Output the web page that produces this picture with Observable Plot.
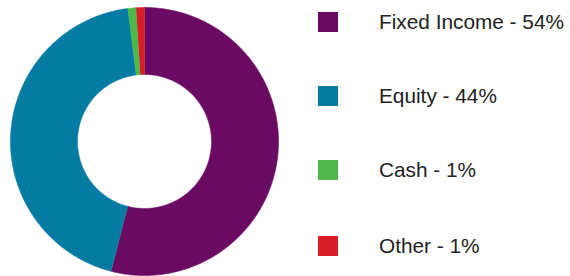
<!DOCTYPE html>
<html>
<head>
<meta charset="utf-8">
<script src="https://cdn.jsdelivr.net/npm/d3@7"></script>
<script src="https://cdn.jsdelivr.net/npm/@observablehq/plot@0.6"></script>
<style>
  html, body { margin: 0; padding: 0; background: #fff; }
  #wrap { position: relative; width: 570px; height: 276px; overflow: hidden; font-family: "Liberation Sans", Arial, sans-serif; }
  #legend { position: absolute; left: 318px; top: 12px; }
  .row { position: absolute; left: 0; height: 20px; display: flex; align-items: center; white-space: nowrap; }
  .sw { width: 20px; height: 20px; flex: none; }
  .lab { margin-left: 41px; font-size: 20.8px; color: #222; line-height: 20px; }
</style>
</head>
<body>
<div id="wrap"><div id="legend"></div></div>
<script>
const categories = ["Fixed Income", "Equity", "Cash", "Other"];
const values = [54, 44, 1, 1];
const labels = ["Fixed Income - 54%", "Equity - 44%", "Cash - 1%", "Other - 1%"];
const colors = ["#6b0a62", "#047ba3", "#50b848", "#d71e28"];

const data = categories.map((c, i) => ({category: c, value: values[i], label: labels[i]}));
const innerRatio = 0.5;

// compute slice angles with d3.pie, then sample each slice's ring outline
const arcs = d3.pie().sort(null).value(d => d.value)(data);
const pts = [];
for (const a of arcs) {
  const n = Math.max(2, Math.ceil((a.endAngle - a.startAngle) / 0.01));
  const outer = d3.range(n + 1).map(k => a.startAngle + (a.endAngle - a.startAngle) * k / n);
  for (const t of outer) pts.push({category: a.data.category, x: Math.sin(t), y: -Math.cos(t)});
  for (const t of outer.slice().reverse()) pts.push({category: a.data.category, x: innerRatio * Math.sin(t), y: -innerRatio * Math.cos(t)});
}

const chart = Plot.plot({
  width: 570,
  height: 276,
  margin: 0,
  x: {domain: [-1, 1], range: [10, 278], axis: null},
  y: {domain: [-1, 1], range: [7, 275], axis: null},
  color: {domain: categories, range: colors},
  marks: [
    Plot.line(pts, {x: "x", y: "y", z: "category", fill: "category", stroke: "category", strokeWidth: 0.6, curve: "linear"})
  ]
});
chart.style.position = "absolute";
chart.style.left = "0";
chart.style.top = "0";
document.getElementById("wrap").prepend(chart);

const legend = document.getElementById("legend");
const rowTops = [0, 74, 148, 224];
data.forEach((d, i) => {
  const row = document.createElement("div");
  row.className = "row";
  row.style.top = rowTops[i] + "px";
  const sw = document.createElement("div");
  sw.className = "sw";
  sw.style.background = chart.scale("color").apply(d.category);
  const lab = document.createElement("span");
  lab.className = "lab";
  lab.textContent = d.label;
  row.append(sw, lab);
  legend.append(row);
});
</script>
</body>
</html>
